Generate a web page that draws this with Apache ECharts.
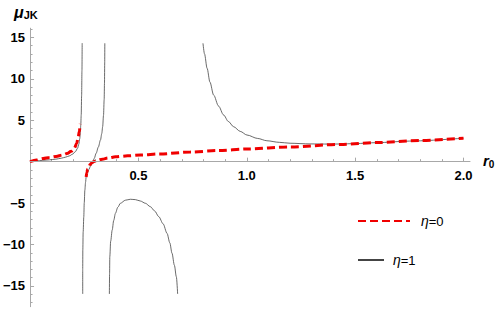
<!DOCTYPE html>
<html>
<head>
<meta charset="utf-8">
<script src="https://cdn.jsdelivr.net/npm/echarts@6/dist/echarts.min.js"></script>
<style>
html,body{margin:0;padding:0;background:#fff;}
#chart{width:500px;height:311px;}
</style>
</head>
<body>
<div id="chart"></div>
<script>
// ---- data ----
const seriesNames = ['η=0', 'η=1'];
// eta = 0 (red dashed), two branches
const eta0BranchA = [[0,0],[0.03,0.2],[0.06,0.38],[0.09,0.5],[0.12,0.62],[0.15,0.8],[0.17,0.97],[0.19,1.25],[0.205,1.65],[0.215,2.2],[0.222,2.9],[0.227,3.6],[0.2315,4.55]];
const eta0BranchB = [[0.259,-1.85],[0.262,-1.3],[0.266,-0.9],[0.271,-0.6],[0.277,-0.35],[0.284,-0.15],[0.294,0.0],[0.311,0.16],[0.333,0.3],[0.36,0.44],[0.394,0.58],[0.45,0.7],[0.509,0.8],[0.6,0.93],[0.74,1.16],[0.87,1.34],[1.0,1.52],[1.2,1.78],[1.431,2.08],[1.6,2.3],[1.8,2.56],[2.0,2.82]];
// eta = 1 (thin black), four branches
const eta1BranchA = [[0,0],[0.03,0.08],[0.058,0.16],[0.09,0.22],[0.119,0.3],[0.145,0.42],[0.165,0.55],[0.182,0.7],[0.196,0.9],[0.209,1.2],[0.219,1.6],[0.225,2.1],[0.2295,2.8],[0.232,3.5],[0.234,4.4],[0.236,5.6],[0.238,8.0],[0.2395,11.0],[0.2405,14.3]];
const eta1BranchB = [[0.243,-15.96],[0.243,-13.0],[0.2435,-10.66],[0.245,-8.5],[0.248,-6.64],[0.25,-5.0],[0.253,-3.42],[0.256,-2.5],[0.259,-1.82],[0.265,-1.35],[0.271,-0.95],[0.279,-0.55],[0.287,-0.2],[0.296,0.38],[0.305,1.01],[0.315,1.75],[0.325,2.61],[0.331,3.4],[0.335,4.22],[0.339,5.6],[0.342,7.5],[0.3435,9.5],[0.3445,12.0],[0.345,14.28]];
const eta1BranchC = [[0.366,-15.96],[0.367,-13.5],[0.368,-11.47],[0.372,-9.6],[0.379,-8.26],[0.386,-7.1],[0.394,-6.23],[0.405,-5.5],[0.417,-5.02],[0.44,-4.65],[0.463,-4.54],[0.486,-4.58],[0.509,-4.75],[0.532,-5.02],[0.555,-5.43],[0.575,-5.95],[0.594,-6.64],[0.614,-7.5],[0.632,-8.64],[0.645,-9.8],[0.655,-11.05],[0.666,-12.5],[0.675,-13.88],[0.681,-15.96]];
const eta1BranchD = [[0.798,14.28],[0.805,13.0],[0.817,11.26],[0.83,9.6],[0.847,8.04],[0.87,6.7],[0.893,5.63],[0.915,4.85],[0.939,4.22],[0.97,3.65],[1.001,3.21],[1.05,2.8],[1.093,2.52],[1.15,2.33],[1.2,2.22],[1.292,2.14],[1.38,2.12],[1.431,2.13],[1.5,2.18],[1.6,2.29],[1.75,2.48],[2.0,2.83]];
// axis ticks
const xMajorTicks = [0.5, 1.0, 1.5, 2.0];
const xMinorTicks = [0.1,0.2,0.3,0.4,0.6,0.7,0.8,0.9,1.1,1.2,1.3,1.4,1.6,1.7,1.8,1.9];
const yMajorTicks = [-15, -10, -5, 5, 10, 15];
const yMinorTicks = [-17,-16,-14,-13,-12,-11,-9,-8,-7,-6,-4,-3,-2,-1,1,2,3,4,6,7,8,9,11,12,13,14,16];

const axisGray = '#a8a8a8';
const labelFont = {fontFamily: 'Liberation Sans, Arial, sans-serif', fontWeight: 'bold', fontSize: 13, color: '#000'};

// grid geometry
const gridLeft = 29.5, gridTop = 28.2, gridW = 440.5, gridH = 278.5;
const yMin = -17.5, yMax = 16.1;
const zeroFromTop = gridH * (yMax - 0) / (yMax - yMin);
// move the x axes so they cross y = 0
const xAxisOffsetBottom = -(gridH - zeroFromTop);
const xAxisOffsetTop = -zeroFromTop;

const chart = echarts.init(document.getElementById('chart'), null, {renderer: 'svg'});

function branch(name, data, isRed, extra) {
  return Object.assign({
    name: name, type: 'line', data: data, xAxisIndex: 0, yAxisIndex: 0,
    symbol: 'none', smooth: 0.3, smoothMonotone: 'x', clip: true, animation: false,
    lineStyle: isRed ? {color: '#f00000', width: 3, type: [8, 4]} : {color: '#444', width: 0.8, type: 'solid'},
    itemStyle: {color: isRed ? '#f00000' : '#444'},
    z: isRed ? 3 : 2
  }, extra || {});
}

const legendRich = {
  i: {fontFamily: 'Liberation Sans, Arial, sans-serif', fontStyle: 'italic', fontSize: 14, color: '#000'},
  n: {fontFamily: 'Liberation Sans, Arial, sans-serif', fontSize: 13, color: '#000'}
};

// zero line of the x axis (drawn along the axis line as well)
const zeroLine = {
  markLine: {
    silent: true, symbol: 'none', animation: false,
    label: {show: false},
    lineStyle: {color: axisGray, width: 1, type: 'solid'},
    data: [{yAxis: 0}]
  }
};

const option = {
  animation: false,
  backgroundColor: '#fff',
  grid: {left: gridLeft, top: gridTop, width: gridW, height: gridH, containLabel: false},
  xAxis: [{
    type: 'value', min: 0, max: 2.03, position: 'bottom', offset: xAxisOffsetBottom,
    axisLine: {show: true, onZero: false, lineStyle: {color: axisGray, width: 1}},
    axisTick: {show: true, inside: true, length: 4, lineStyle: {color: axisGray}, customValues: xMajorTicks},
    axisLabel: Object.assign({show: true, margin: 7, customValues: xMajorTicks, formatter: v => Number(v).toFixed(1)}, labelFont),
    splitLine: {show: false}
  }, {
    type: 'value', min: 0, max: 2.03, position: 'top', offset: xAxisOffsetTop,
    axisLine: {show: false, onZero: false},
    axisTick: {show: true, inside: false, length: 2.5, lineStyle: {color: axisGray}, customValues: xMinorTicks},
    axisLabel: {show: false},
    splitLine: {show: false}
  }],
  yAxis: [{
    type: 'value', min: yMin, max: yMax, position: 'left',
    axisLine: {show: true, onZero: false, lineStyle: {color: axisGray, width: 1}},
    axisTick: {show: true, inside: true, length: 4, lineStyle: {color: axisGray}, customValues: yMajorTicks},
    axisLabel: Object.assign({show: true, margin: 5, customValues: yMajorTicks, formatter: v => String(v).replace('-', '\u2212')}, labelFont),
    splitLine: {show: false}
  }, {
    type: 'value', min: yMin, max: yMax, position: 'left',
    axisLine: {show: false, onZero: false},
    axisTick: {show: true, inside: true, length: 2.5, lineStyle: {color: axisGray}, customValues: yMinorTicks},
    axisLabel: {show: false},
    splitLine: {show: false}
  }],
  legend: [{
    data: [seriesNames[0]], left: 352, top: 209, orient: 'vertical',
    itemWidth: 52, itemHeight: 14,
    itemStyle: {color: 'rgba(0,0,0,0)', borderColor: 'rgba(0,0,0,0)', borderWidth: 0},
    formatter: n => '{i|η}{n|' + n.slice(1) + '}',
    textStyle: {padding: [0, 0, 0, 6], rich: legendRich}
  }, {
    data: [seriesNames[1]], left: 352, top: 248, orient: 'vertical',
    itemWidth: 26, itemHeight: 14,
    itemStyle: {color: 'rgba(0,0,0,0)', borderColor: 'rgba(0,0,0,0)', borderWidth: 0},
    formatter: n => '{i|η}{n|' + n.slice(1) + '}',
    textStyle: {padding: [0, 0, 0, 4], rich: legendRich}
  }],
  graphic: [{
    type: 'text', left: 14, top: 4,
    style: {
      text: '{m|μ}{s|JK}',
      rich: {
        m: {fontFamily: 'Liberation Sans, Arial, sans-serif', fontStyle: 'italic', fontWeight: 'bold', fontSize: 16, fill: '#000'},
        s: {fontFamily: 'Liberation Sans, Arial, sans-serif', fontWeight: 'bold', fontSize: 11, fill: '#000', padding: [6, 0, 0, 0]}
      }
    }
  }, {
    type: 'text', left: 483, top: 153,
    style: {
      text: '{m|r}{s|0}',
      rich: {
        m: {fontFamily: 'Liberation Sans, Arial, sans-serif', fontStyle: 'italic', fontWeight: 'bold', fontSize: 15, fill: '#000'},
        s: {fontFamily: 'Liberation Sans, Arial, sans-serif', fontWeight: 'bold', fontSize: 10, fill: '#000', padding: [7, 0, 0, 0]}
      }
    }
  }],
  series: [
    branch(seriesNames[1], eta1BranchA, false, zeroLine),
    branch(seriesNames[1], eta1BranchB, false),
    branch(seriesNames[1], eta1BranchC, false),
    branch(seriesNames[1], eta1BranchD, false),
    branch(seriesNames[0], eta0BranchA, true),
    branch(seriesNames[0], eta0BranchB, true)
  ]
};
chart.setOption(option);
</script>
</body>
</html>
